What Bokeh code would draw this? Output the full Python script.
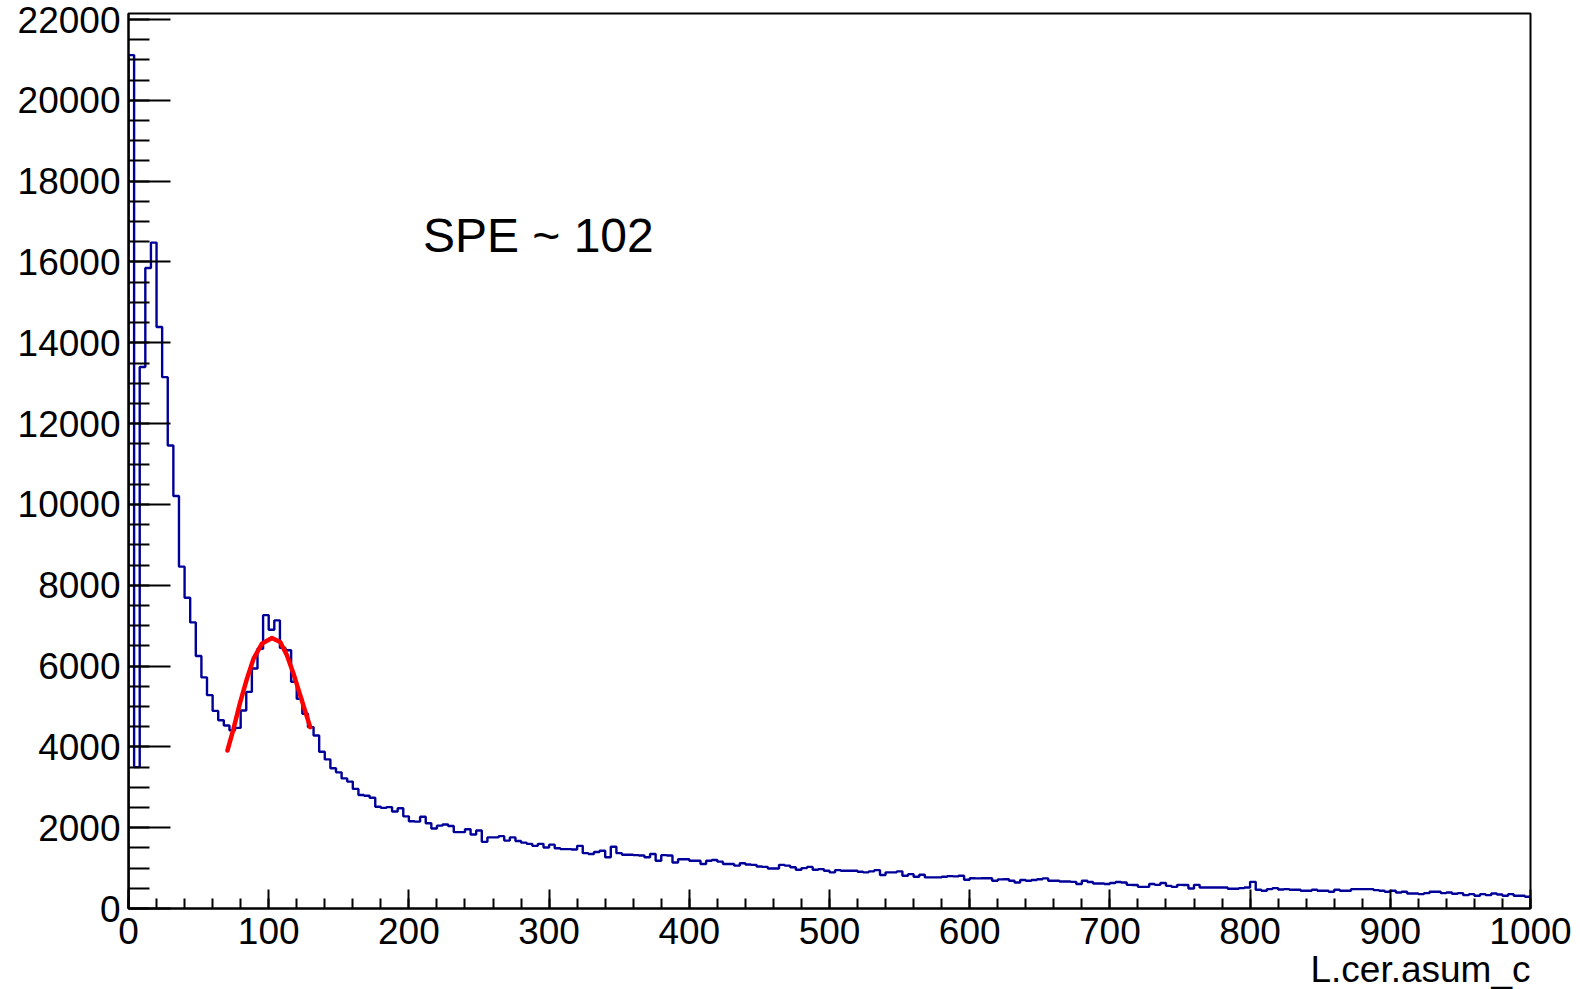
import numpy as np
from bokeh.plotting import figure
from bokeh.models import SingleIntervalTicker, Label, Range1d, ColumnDataSource, Title
from bokeh.embed import file_html
from bokeh.resources import INLINE

# ---- data -----------------------------------------------------------
bin_low = 0.0
bin_width = 4.0
counts = [
    21120, 3500, 13400, 15850, 16480, 14390, 13150, 11460, 10210, 8460,
    7690, 7080, 6250, 5720, 5280, 4890, 4660, 4530, 4410, 4470,
    4900, 5360, 5940, 6430, 7260, 6900, 7130, 6450, 6390, 5610,
    5190, 4820, 4490, 4280, 3880, 3690, 3470, 3370, 3220, 3140,
    2960, 2810, 2790, 2740, 2520, 2490, 2510, 2400, 2480, 2280,
    2160, 2150, 2270, 2110, 1980, 2050, 2080, 2040, 1890, 1890,
    1960, 1830, 1930, 1650, 1760, 1760, 1790, 1680, 1760, 1670,
    1630, 1600, 1550, 1600, 1510, 1580, 1490, 1470, 1470, 1460,
    1550, 1370, 1350, 1400, 1430, 1270, 1530, 1370, 1330, 1330,
    1320, 1310, 1270, 1350, 1180, 1320, 1310, 1140, 1220, 1220,
    1180, 1180, 1100, 1180, 1200, 1160, 1100, 1100, 1060, 1120,
    1090, 1080, 1040, 1030, 990, 990, 1080, 1060, 1020, 960,
    1000, 1030, 960, 975, 935, 895, 950, 935, 935, 935,
    910, 895, 920, 950, 830, 895, 895, 920, 810, 850,
    785, 835, 770, 770, 770, 785, 800, 795, 810, 710,
    750, 745, 750, 750, 685, 720, 725, 685, 645, 705,
    685, 705, 725, 745, 685, 685, 670, 670, 660, 605,
    685, 655, 620, 620, 605, 630, 655, 645, 585, 580,
    535, 535, 605, 585, 630, 560, 535, 585, 580, 495,
    585, 520, 520, 520, 520, 520, 490, 490, 505, 520,
    660, 465, 440, 480, 505, 470, 480, 465, 465, 440,
    440, 465, 440, 440, 415, 465, 440, 440, 480, 480,
    480, 480, 455, 440, 415, 440, 395, 415, 370, 370,
    355, 380, 415, 415, 380, 395, 365, 380, 330, 355,
    315, 355, 330, 370, 345, 315, 355, 315, 315, 290,
]

# fit curve points
fit_x = [70.6, 74.9, 79.7, 84.5, 89.2, 95.2, 102.3, 108.2, 113.0, 117.7, 122.5, 129.6]
fit_y = [3911, 4447, 5109, 5687, 6183, 6555, 6696, 6597, 6267, 5811, 5275, 4489]

x_label = "L.cer.asum_c"
annotation = "SPE ~ 102"

# ---- build step outline from bins ------------------------------------
counts_arr = np.array(counts, dtype=float)
edges = bin_low + bin_width * np.arange(len(counts_arr) + 1)
step_x = np.concatenate([[edges[0]], np.repeat(edges, 2)[1:-1], [edges[-1]]])
step_y = np.concatenate([[0.0], np.repeat(counts_arr, 2), [0.0]])
hist_src = ColumnDataSource(dict(x=step_x, y=step_y))
fit_src = ColumnDataSource(dict(x=fit_x, y=fit_y))

FONT = "Liberation Sans"

p = figure(width=1580, height=989, output_backend="svg", toolbar_location=None,
           x_range=Range1d(0, 1000), y_range=Range1d(0, 22150),
           min_border_left=128, min_border_right=50, min_border_top=13, min_border_bottom=0)

p.line("x", "y", source=hist_src, line_color="#000099", line_width=2.4)
p.line("x", "y", source=fit_src, line_color="#ff0000", line_width=4.5,
       line_join="round", line_cap="round")

p.xgrid.visible = False
p.ygrid.visible = False
p.background_fill_color = "white"
p.border_fill_color = "white"
p.outline_line_color = "black"
p.outline_line_width = 2

p.xaxis.ticker = SingleIntervalTicker(interval=100, num_minor_ticks=5)
p.yaxis.ticker = SingleIntervalTicker(interval=2000, num_minor_ticks=4)

for ax in (p.xaxis, p.yaxis):
    ax.axis_line_color = "black"
    ax.axis_line_width = 2
    ax.major_tick_out = 0
    ax.minor_tick_out = 0
    ax.major_tick_line_width = 2
    ax.minor_tick_line_width = 2
    ax.major_tick_line_color = "black"
    ax.minor_tick_line_color = "black"
    ax.major_label_text_font = FONT
    ax.major_label_text_font_size = "37px"
    ax.major_label_text_color = "black"

p.xaxis.major_tick_in = 19
p.xaxis.minor_tick_in = 10
p.yaxis.major_tick_in = 42
p.yaxis.minor_tick_in = 21
p.xaxis.major_label_standoff = 9
p.yaxis.major_label_standoff = 8
p.yaxis.major_label_orientation = "horizontal"

p.add_layout(Title(text=x_label, align="right", text_font=FONT,
                   text_font_size="37px", text_font_style="normal",
                   text_color="black", standoff=0, offset=0), "below")

p.add_layout(Label(x=210, y=16650, text=annotation, text_font=FONT,
                   text_font_size="48px", text_color="black",
                   text_baseline="middle", text_align="left"))

open("out.html", "w").write(file_html(p, INLINE))
